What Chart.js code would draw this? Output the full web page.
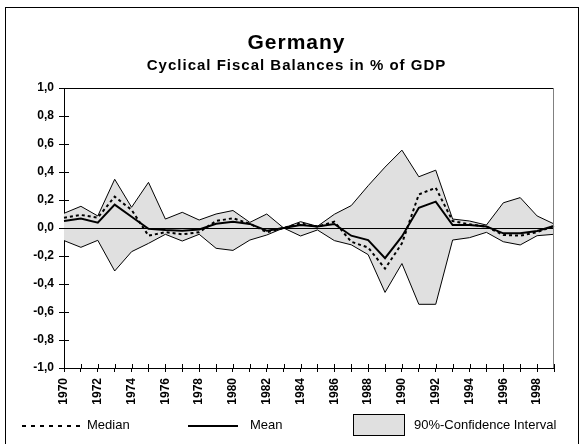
<!DOCTYPE html>
<html lang="en">
<head>
  <meta charset="UTF-8">
  <title>Germany - Cyclical Fiscal Balances in % of GDP</title>
  <script src="https://cdn.jsdelivr.net/npm/chart.js@4.4.1/dist/chart.umd.min.js"></script>
  <style>
    body {
      margin: 0;
      background: #fff;
      font-family: "Liberation Sans", Arial, sans-serif;
    }
    #wrap {
      position: relative;
      width: 583px;
      height: 444px;
      overflow: hidden;
    }
    #frame {
      position: absolute;
      left: 5px;
      top: 7px;
      width: 574px;
      height: 460px;
      border: 1px solid #000;
      box-sizing: border-box;
    }
    #myChart { position: absolute; left: 0; top: 0; }
    .t {
      position: absolute;
      left: 5px;
      width: 583px;
      text-align: center;
      font-weight: bold;
      color: #000;
      white-space: nowrap;
    }
    #title { top: 30px; font-size: 21px; line-height: 24px; letter-spacing: 1px; }
    #subtitle { top: 56px; font-size: 15px; line-height: 18px; letter-spacing: 1px; }
    .lg {
      position: absolute;
      font-size: 13px;
      line-height: 16px;
      top: 417px;
      color: #000;
      white-space: nowrap;
    }
    .lgline { position: absolute; top: 424px; }
    #lgbox {
      position: absolute;
      left: 353px;
      top: 414px;
      width: 52px;
      height: 22px;
      background: #e0e0e0;
      border: 1px solid #000;
      box-sizing: border-box;
    }
  </style>
</head>
<body>

<div id="wrap">
  <div id="frame"></div>
  <canvas id="myChart" width="583" height="444"></canvas>
  <div class="t" id="title">Germany</div>
  <div class="t" id="subtitle">Cyclical Fiscal Balances in % of GDP</div>

  <svg class="lgline" style="left:22px" width="58" height="4">
    <line x1="0" y1="2" x2="58" y2="2" stroke="#000" stroke-width="2" stroke-dasharray="4 5"/>
  </svg>
  <div class="lg" style="left:87px">Median</div>
  <svg class="lgline" style="left:188px" width="50" height="4">
    <line x1="0" y1="2" x2="50" y2="2" stroke="#000" stroke-width="2"/>
  </svg>
  <div class="lg" style="left:250px">Mean</div>
  <div id="lgbox"></div>
  <div class="lg" style="left:414px">90%-Confidence Interval</div>
</div>

<script>
  // données
  const years = [1970, 1971, 1972, 1973, 1974, 1975, 1976, 1977, 1978, 1979,
                 1980, 1981, 1982, 1983, 1984, 1985, 1986, 1987, 1988, 1989,
                 1990, 1991, 1992, 1993, 1994, 1995, 1996, 1997, 1998, 1999];

  const median = [0.074, 0.093, 0.074, 0.224, 0.129, -0.055, -0.03, -0.045, -0.03, 0.05,
                  0.07, 0.03, -0.03, 0.0, 0.033, 0.01, 0.045, -0.098, -0.14, -0.29,
                  -0.11, 0.24, 0.287, 0.05, 0.026, 0.01, -0.05, -0.055, -0.03, 0.014];

  const mean = [0.05, 0.067, 0.038, 0.167, 0.08, -0.005, -0.014, -0.02, -0.01, 0.03,
                0.045, 0.029, -0.019, 0.0, 0.021, 0.01, 0.029, -0.055, -0.086, -0.215,
                -0.06, 0.144, 0.188, 0.021, 0.021, 0.01, -0.038, -0.038, -0.021, 0.014];

  // bornes de l'intervalle de confiance (elles se croisent en 1983)
  const bandA = [0.105, 0.155, 0.086, 0.348, 0.148, 0.326, 0.064, 0.112, 0.057, 0.10,
                 0.125, 0.04, 0.10, 0.0, -0.057, -0.014, -0.09, -0.12, -0.19, -0.46,
                 -0.254, -0.545, -0.545, -0.086, -0.069, -0.031, -0.098, -0.121, -0.055, -0.045];

  const bandB = [-0.09, -0.138, -0.088, -0.307, -0.169, -0.11, -0.045, -0.093, -0.045, -0.145,
                 -0.16, -0.086, -0.05, 0.0, 0.045, 0.012, 0.098, 0.16, 0.302, 0.435,
                 0.556, 0.366, 0.413, 0.064, 0.05, 0.021, 0.18, 0.217, 0.086, 0.029];

  const yMin = -1, yMax = 1, yStep = 0.2;

  const FONT = '"Liberation Sans", Arial, sans-serif';

  // cadre, ligne du zéro et graduations qui traversent les axes
  const decorations = {
    id: 'decorations',
    afterDatasetDraw(chart, args) {
      if (args.index !== 3) return;
      const { ctx, chartArea: a, scales: { y } } = chart;
      const y0 = Math.round(y.getPixelForValue(0)) + 0.5;
      ctx.save();
      ctx.strokeStyle = '#000';
      ctx.lineWidth = 1;
      ctx.beginPath();
      ctx.moveTo(a.left, y0);
      ctx.lineTo(a.right, y0);
      ctx.stroke();
      ctx.restore();
    },
    afterDraw(chart) {
      const { ctx, chartArea: a, scales: { x, y } } = chart;
      ctx.save();
      ctx.lineWidth = 1;
      ctx.strokeStyle = '#000';
      ctx.beginPath();
      ctx.moveTo(a.left, a.top + 0.5);
      ctx.lineTo(a.right, a.top + 0.5);
      y.ticks.forEach((t, i) => {
        const py = Math.round(y.getPixelForTick(i)) + 0.5;
        ctx.moveTo(a.left, py);
        ctx.lineTo(a.left + 5, py);
      });
      x.ticks.forEach((t, i) => {
        const px = Math.round(x.getPixelForTick(i)) + 0.5;
        ctx.moveTo(px, a.bottom);
        ctx.lineTo(px, a.bottom - 4);
      });
      ctx.stroke();
      ctx.strokeStyle = '#808080';
      ctx.beginPath();
      ctx.moveTo(a.right - 0.5, a.top);
      ctx.lineTo(a.right - 0.5, a.bottom);
      ctx.stroke();
      ctx.restore();
    }
  };

  const ctx = document.getElementById('myChart').getContext('2d');

  new Chart(ctx, {
    type: 'line',
    data: {
      labels: years,
      datasets: [
        {
          label: 'Median',
          data: median,
          borderColor: '#000',
          borderWidth: 2,
          borderDash: [3, 3],
          pointRadius: 0,
          fill: false,
          order: 0
        },
        {
          label: 'Mean',
          data: mean,
          borderColor: '#000',
          borderWidth: 2,
          pointRadius: 0,
          fill: false,
          order: 1
        },
        {
          label: 'CI bound A',
          data: bandA,
          borderColor: '#000',
          borderWidth: 1,
          pointRadius: 0,
          fill: false,
          order: 3
        },
        {
          label: '90%-Confidence Interval',
          data: bandB,
          borderColor: '#000',
          borderWidth: 1,
          pointRadius: 0,
          backgroundColor: '#e0e0e0',
          fill: 2,
          order: 2
        }
      ]
    },
    options: {
      responsive: false,
      animation: false,
      devicePixelRatio: 1,
      layout: { padding: { top: 88, right: 29, bottom: 0, left: 0 } },
      plugins: {
        legend: { display: false },
        tooltip: { enabled: false },
        filler: { drawTime: 'beforeDatasetsDraw' }
      },
      scales: {
        x: {
          offset: false,
          afterFit: (s) => { s.height = 76; },
          grid: { drawOnChartArea: false, drawTicks: true, tickLength: 4, color: '#000' },
          border: { color: '#000', width: 1 },
          ticks: {
            autoSkip: false,
            minRotation: 90,
            maxRotation: 90,
            padding: 6,
            color: '#000',
            font: { family: FONT, size: 12, weight: 'bold' },
            callback: (val, i) => (years[i] % 2 === 0 ? String(years[i]) : '')
          }
        },
        y: {
          min: yMin,
          max: yMax,
          afterFit: (s) => { s.width = 64; },
          grid: { drawOnChartArea: false, drawTicks: true, tickLength: 5, color: '#000' },
          border: { color: '#000', width: 1 },
          ticks: {
            stepSize: yStep,
            padding: 5,
            color: '#000',
            font: { family: FONT, size: 12, weight: 'bold' },
            callback: (v) => (Math.round(v * 10) / 10).toFixed(1).replace('.', ',')
          }
        }
      }
    },
    plugins: [decorations]
  });
</script>

</body>
</html>
